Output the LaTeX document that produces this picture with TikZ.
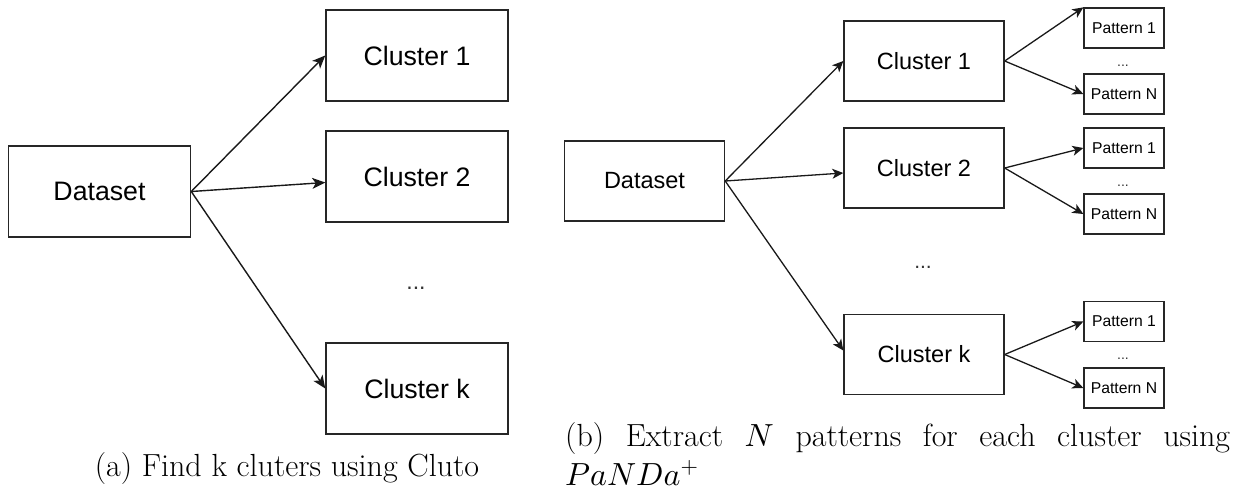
\documentclass[tikz,border=0pt]{standalone}
\usepackage{fontspec}
\newfontfamily\boxfont{Liberation Sans}
\usetikzlibrary{arrows.meta}
% scalable math fonts for the large caption text
\DeclareFontFamily{OML}{cmm}{\skewchar\font127 }
\DeclareFontShape{OML}{cmm}{m}{it}{<-> cmmi10}{}
\DeclareFontShape{OT1}{cmr}{m}{n}{<-> cmr10}{}
\DeclareFontShape{OMS}{cmsy}{m}{n}{<-> cmsy10}{}
\begin{document}
\begin{tikzpicture}[x=1pt, y=-1pt,
  bigbox/.style={draw=black!85, line width=1.5pt, inner sep=0pt,
    minimum width=182pt, minimum height=91pt,
    font={\boxfont\fontsize{26.7}{32}\selectfont}},
  midbox/.style={draw=black!85, line width=1.4pt, inner sep=0pt,
    minimum width=160pt, minimum height=80pt,
    font={\boxfont\fontsize{23.5}{28}\selectfont}},
  patbox/.style={draw=black!85, line width=1.3pt, inner sep=0pt,
    minimum width=80pt, minimum height=40pt,
    font={\boxfont\fontsize{15.7}{19}\selectfont}},
  biglink/.style={-{Stealth[length=13pt, width=11pt, inset=3.5pt]}, line width=1.4pt, draw=black!90},
  smalllink/.style={-{Stealth[length=11pt, width=10pt, inset=3pt]}, line width=1.3pt, draw=black!90},
  gap/.style={anchor=base, inner sep=0pt, text=black!80},
  captxt/.style={inner sep=0pt, font={\fontsize{32}{38}\selectfont}}
]
\useasboundingbox (0,0) rectangle (1249,491);

% ---- (a) clustering with Cluto ----
\node[bigbox] (ds)  at (99.5,191.5) {Dataset};
\node[bigbox] (c1)  at (417,55.5)   {Cluster 1};
\node[bigbox] (c2)  at (417,176.5)  {Cluster 2};
\node[bigbox] (ck)  at (417,388.5)  {Cluster k};
\node[gap, font={\boxfont\fontsize{23}{28}\selectfont}] (cdots) at (416,289) {...};

\draw[biglink] (ds.east) -- (c1.west);
\draw[biglink] (ds.east) -- ([yshift=-6pt]c2.west);
\draw[biglink] (ds.east) -- (ck.west);

\node[captxt, anchor=base] (capa) at (287,476) {(a) Find k cluters using Cluto};

% ---- (b) pattern extraction with PaNDa+ ----
\node[midbox] (ds2) at (644.5,181) {Dataset};
\node[midbox] (d1)  at (924,61)    {Cluster 1};
\node[midbox] (d2)  at (924,168)   {Cluster 2};
\node[midbox] (dk)  at (924,354.5) {Cluster k};
\node[gap, font={\boxfont\fontsize{21}{25}\selectfont}] (ddots) at (923,268) {...};

\draw[smalllink] (ds2.east) -- (d1.west);
\draw[smalllink] (ds2.east) -- ([yshift=-5pt]d2.west);
\draw[smalllink] (ds2.east) -- ([yshift=4pt]dk.west);

\node[patbox] (p11) at (1124,28)    {Pattern 1};
\node[patbox] (p1n) at (1124,94)    {Pattern N};
\node[patbox] (p21) at (1124,148)   {Pattern 1};
\node[patbox] (p2n) at (1124,214)   {Pattern N};
\node[patbox] (pk1) at (1124,321.5) {Pattern 1};
\node[patbox] (pkn) at (1124,388)   {Pattern N};

\node[gap, font={\boxfont\fontsize{14}{17}\selectfont}] (g1) at (1123,66.5)  {...};
\node[gap, font={\boxfont\fontsize{14}{17}\selectfont}] (g2) at (1123,186.5) {...};
\node[gap, font={\boxfont\fontsize{14}{17}\selectfont}] (gk) at (1123,359.5) {...};

\draw[smalllink] (d1.east) -- (p11.north west);
\draw[smalllink] (d1.east) -- (p1n.west);
\draw[smalllink] (d2.east) -- (p21.west);
\draw[smalllink] (d2.east) -- (p2n.west);
\draw[smalllink] (dk.east) -- (pk1.west);
\draw[smalllink] (dk.east) -- (pkn.west);

\node[captxt, anchor=base west] (capb1) at (565,446)
  {\makebox[665pt][s]{(b) Extract $N$ patterns for each cluster using}};
\node[captxt, anchor=base west] (capb2) at (565,485) {$PaNDa^+$};
\end{tikzpicture}
\end{document}
